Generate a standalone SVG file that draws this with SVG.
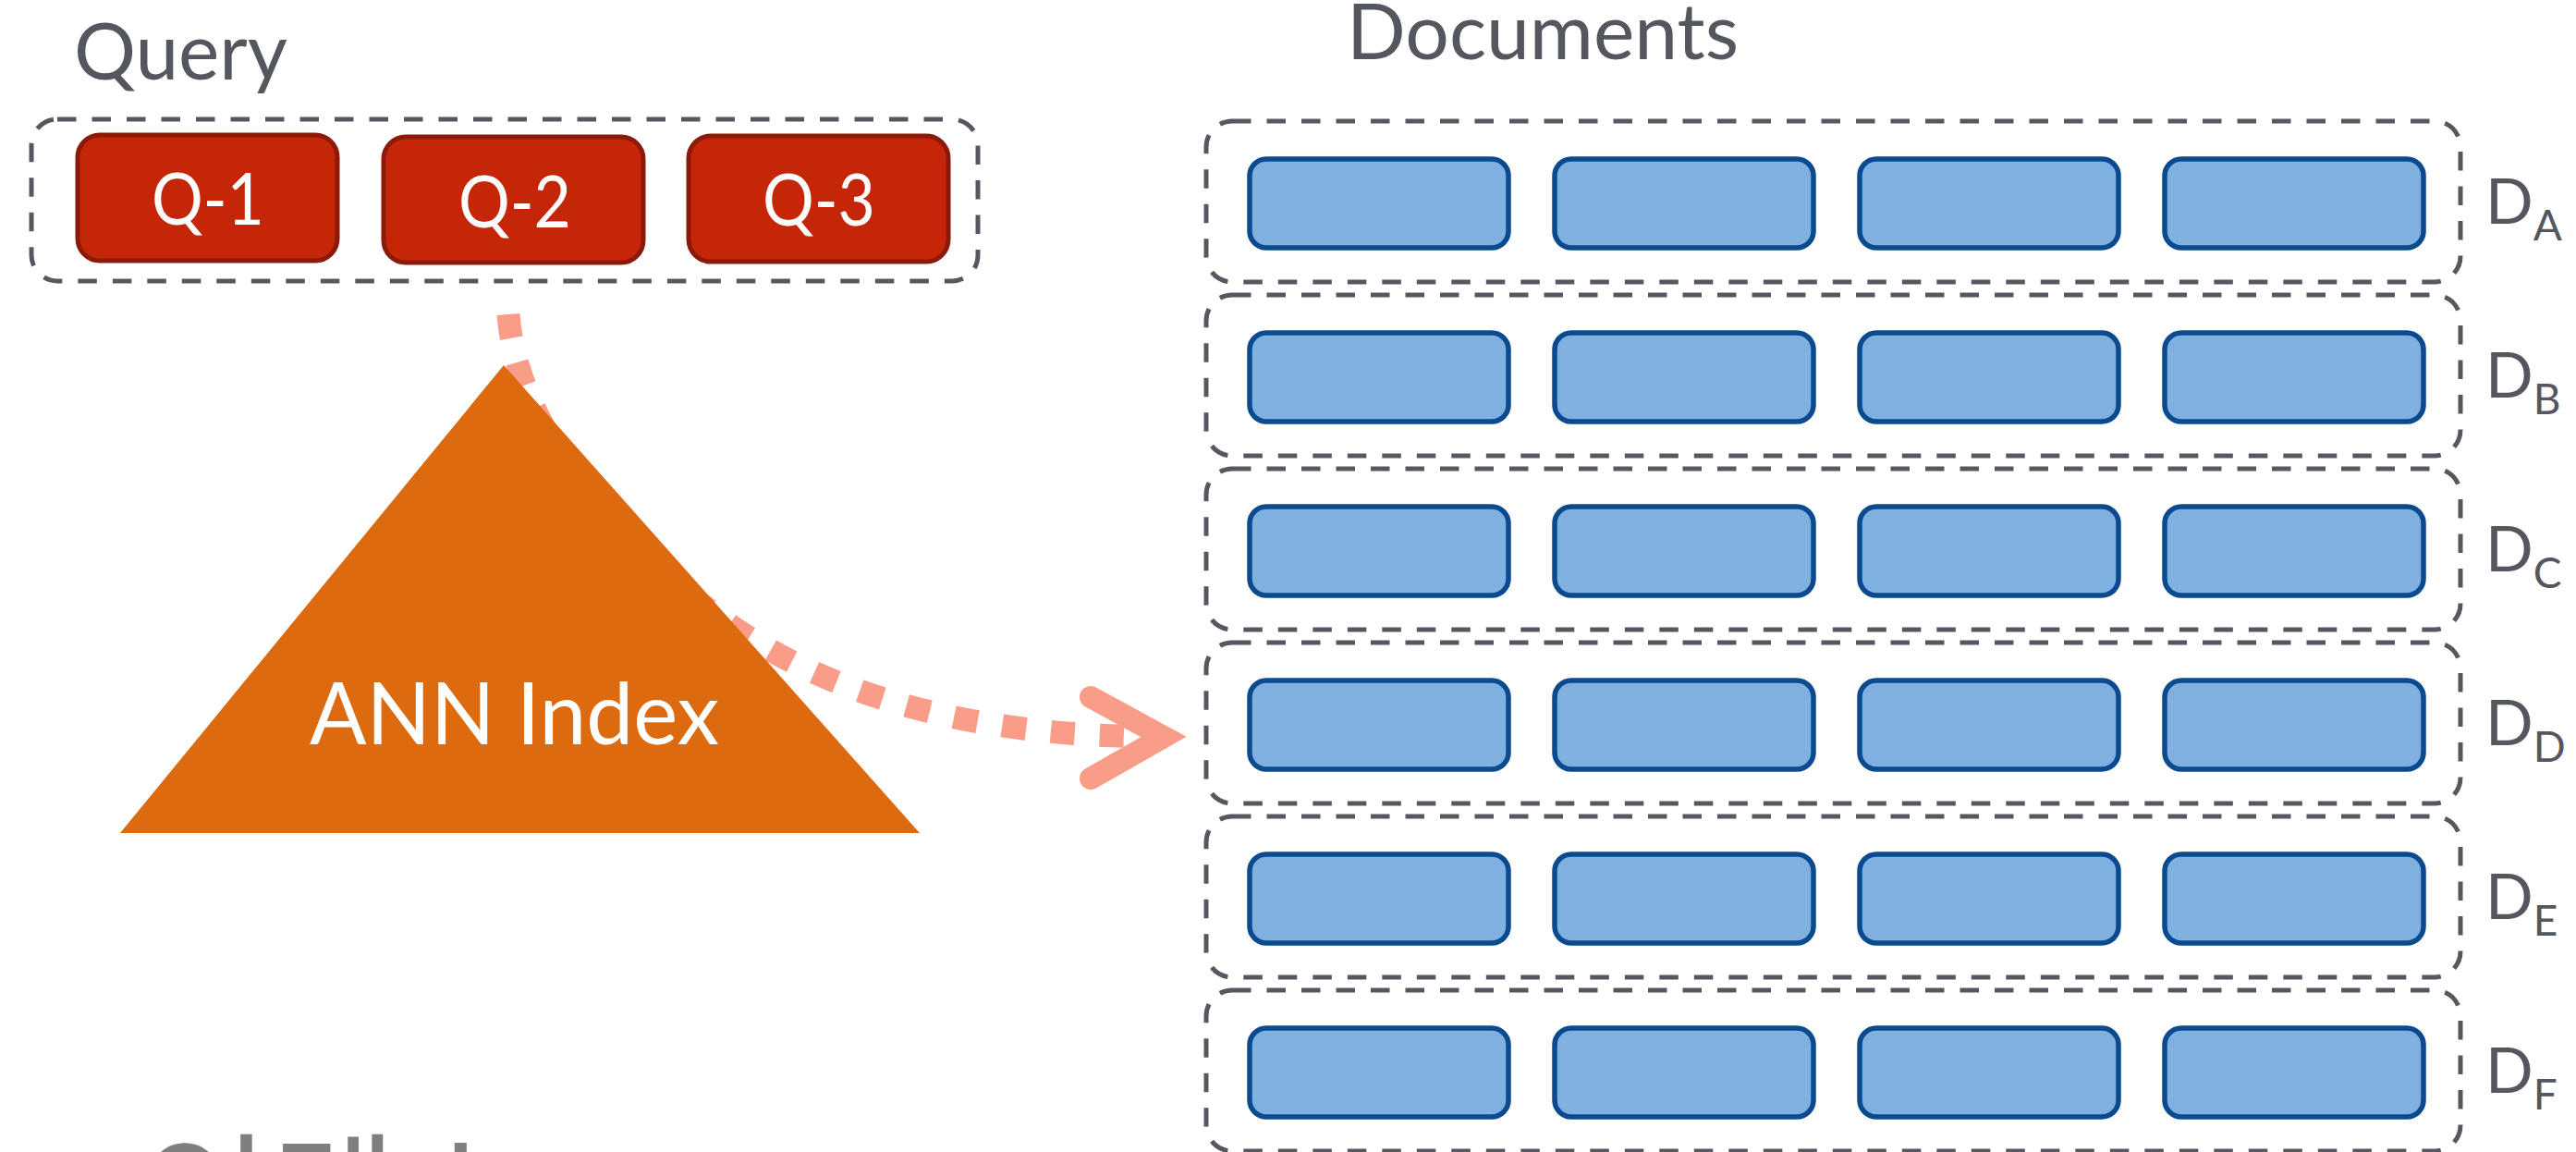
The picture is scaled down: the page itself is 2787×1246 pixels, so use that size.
<svg xmlns="http://www.w3.org/2000/svg" width="2787" height="1246" viewBox="0 0 2787 1246">
  <style>
    .lbl { font-family: Lato, "Open Sans", "Liberation Sans", sans-serif; fill: #54575e; }
    .qtxt { font-family: Lato, "Open Sans", "Liberation Sans", sans-serif; fill: #ffffff; font-size: 77px; }
    .frame { fill: none; stroke: #55585f; stroke-width: 5; stroke-dasharray: 20.5 17; }
    .qbox { fill: #c52608; stroke: #8c1a0a; stroke-width: 5; }
    .vec { fill: #80b0e0; stroke: #0b4a8e; stroke-width: 5.5; }
    .flow { fill: none; stroke: #f99d89; stroke-width: 25; stroke-dasharray: 26 27; }
    .dname { font-size: 68px; }
    .dsub { font-size: 46px; }
  </style>
  <defs>
    <marker id="open-arrow" markerUnits="userSpaceOnUse" markerWidth="140" markerHeight="140" viewBox="-110 -70 140 140" refX="0" refY="0" orient="auto" overflow="visible">
      <path d="M -79 -43 L 0 0 L -79 45" fill="none" stroke="#f99d89" stroke-width="24" stroke-linecap="round" stroke-linejoin="miter" stroke-miterlimit="10"/>
    </marker>
  </defs>

  <rect width="2787" height="1246" fill="#ffffff"/>

  <!-- connectors: query -> index -> documents -->
  <g id="connectors">
    <path class="flow" d="M 550 340 C 560 480, 700 618, 800 683 C 900 748, 1040 797, 1259 797" marker-end="url(#open-arrow)"/>
  </g>

  <!-- query -->
  <text class="lbl" x="80" y="86" font-size="85" textLength="231" lengthAdjust="spacingAndGlyphs">Query</text>
  <g id="query">
    <rect class="frame" x="34" y="129" width="1024" height="175" rx="28"/>
    <g id="q1">
      <rect class="qbox" x="84" y="146" width="281" height="136" rx="24"/>
      <text class="qtxt" x="225" y="243" text-anchor="middle" textLength="122" lengthAdjust="spacingAndGlyphs">Q-1</text>
    </g>
    <g id="q2">
      <rect class="qbox" x="415" y="148" width="281" height="136" rx="24"/>
      <text class="qtxt" x="557" y="246" text-anchor="middle" textLength="122" lengthAdjust="spacingAndGlyphs">Q-2</text>
    </g>
    <g id="q3">
      <rect class="qbox" x="745" y="147" width="281" height="136" rx="24"/>
      <text class="qtxt" x="886" y="244" text-anchor="middle" textLength="122" lengthAdjust="spacingAndGlyphs">Q-3</text>
    </g>
  </g>

  <!-- ANN index -->
  <g id="ann-index">
    <polygon points="545,395 995,901 130,901" fill="#de6a10"/>
    <text x="335" y="805" font-family="Lato, 'Open Sans', 'Liberation Sans', sans-serif" font-size="94" fill="#ffffff" textLength="443" lengthAdjust="spacingAndGlyphs">ANN Index</text>
  </g>

  <!-- documents -->
  <text class="lbl" x="1457" y="64" font-size="84" textLength="424" lengthAdjust="spacingAndGlyphs">Documents</text>

  <g id="doc-a">
    <rect class="frame" x="1305" y="131" width="1357" height="174" rx="28"/>
    <rect class="vec" x="1352" y="172" width="280" height="96" rx="18"/>
    <rect class="vec" x="1682" y="172" width="280" height="96" rx="18"/>
    <rect class="vec" x="2012" y="172" width="280" height="96" rx="18"/>
    <rect class="vec" x="2342" y="172" width="280" height="96" rx="18"/>
    <text class="lbl dname" x="2689" y="241.5">D<tspan class="dsub" dy="18">A</tspan></text>
  </g>

  <g id="doc-b">
    <rect class="frame" x="1305" y="319" width="1357" height="174" rx="28"/>
    <rect class="vec" x="1352" y="360" width="280" height="96" rx="18"/>
    <rect class="vec" x="1682" y="360" width="280" height="96" rx="18"/>
    <rect class="vec" x="2012" y="360" width="280" height="96" rx="18"/>
    <rect class="vec" x="2342" y="360" width="280" height="96" rx="18"/>
    <text class="lbl dname" x="2689" y="429.5">D<tspan class="dsub" dy="18">B</tspan></text>
  </g>

  <g id="doc-c">
    <rect class="frame" x="1305" y="507" width="1357" height="174" rx="28"/>
    <rect class="vec" x="1352" y="548" width="280" height="96" rx="18"/>
    <rect class="vec" x="1682" y="548" width="280" height="96" rx="18"/>
    <rect class="vec" x="2012" y="548" width="280" height="96" rx="18"/>
    <rect class="vec" x="2342" y="548" width="280" height="96" rx="18"/>
    <text class="lbl dname" x="2689" y="617.5">D<tspan class="dsub" dy="18">C</tspan></text>
  </g>

  <g id="doc-d">
    <rect class="frame" x="1305" y="695" width="1357" height="174" rx="28"/>
    <rect class="vec" x="1352" y="736" width="280" height="96" rx="18"/>
    <rect class="vec" x="1682" y="736" width="280" height="96" rx="18"/>
    <rect class="vec" x="2012" y="736" width="280" height="96" rx="18"/>
    <rect class="vec" x="2342" y="736" width="280" height="96" rx="18"/>
    <text class="lbl dname" x="2689" y="805.5">D<tspan class="dsub" dy="18">D</tspan></text>
  </g>

  <g id="doc-e">
    <rect class="frame" x="1305" y="883" width="1357" height="174" rx="28"/>
    <rect class="vec" x="1352" y="924" width="280" height="96" rx="18"/>
    <rect class="vec" x="1682" y="924" width="280" height="96" rx="18"/>
    <rect class="vec" x="2012" y="924" width="280" height="96" rx="18"/>
    <rect class="vec" x="2342" y="924" width="280" height="96" rx="18"/>
    <text class="lbl dname" x="2689" y="993.5">D<tspan class="dsub" dy="18">E</tspan></text>
  </g>

  <g id="doc-f">
    <rect class="frame" x="1305" y="1071" width="1357" height="174" rx="28"/>
    <rect class="vec" x="1352" y="1112" width="280" height="96" rx="18"/>
    <rect class="vec" x="1682" y="1112" width="280" height="96" rx="18"/>
    <rect class="vec" x="2012" y="1112" width="280" height="96" rx="18"/>
    <rect class="vec" x="2342" y="1112" width="280" height="96" rx="18"/>
    <text class="lbl dname" x="2689" y="1181.5">D<tspan class="dsub" dy="18">F</tspan></text>
  </g>

  <!-- caption running off the bottom edge -->
  <text x="154" y="1351" font-family="'Noto Sans CJK KR', sans-serif" font-size="150" fill="#7f7f7f">인덱스</text>
</svg>
